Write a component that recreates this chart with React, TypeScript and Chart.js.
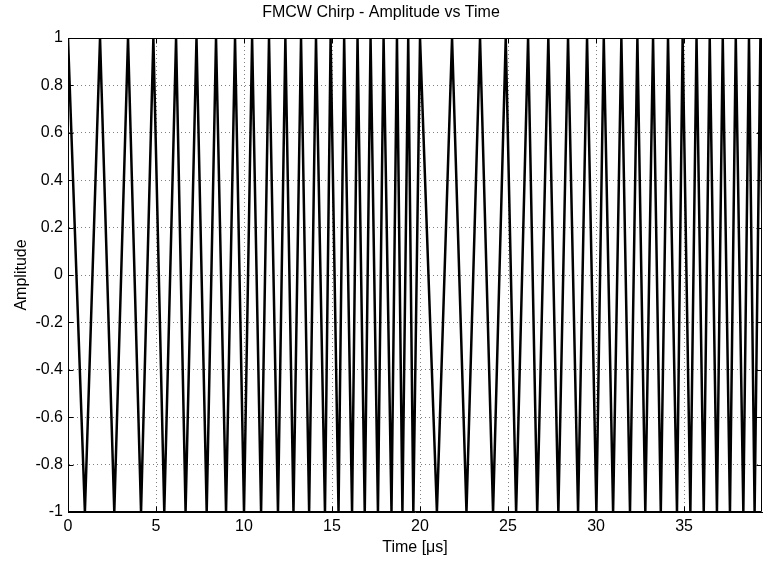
import { useEffect, useRef } from 'react';
import { Chart, registerables } from 'chart.js';

Chart.register(...registerables);

const TITLE = 'FMCW Chirp - Amplitude vs Time';
const X_LABEL = 'Time [μs]';
const Y_LABEL = 'Amplitude';

// Times (µs) at which the chirp reaches +1
const peakTimes = [
  0, 1.82, 3.41, 4.85, 6.14, 7.3, 8.41, 9.49, 10.46, 11.42, 12.35, 13.24, 14.09, 14.92, 15.69, 16.45,
  17.19, 17.93, 18.69, 19.33,
  20.0, 21.82, 23.41, 24.87, 26.14, 27.29, 28.41, 29.49, 30.44, 31.44, 32.35, 33.24, 34.09, 34.92,
  35.71, 36.46, 37.2, 37.94, 38.69, 39.34,
];
// Times (µs) at which the chirp reaches -1
const troughTimes = [
  0.96, 2.63, 4.15, 5.47, 6.68, 7.88, 8.98, 10.0, 10.97, 11.93, 12.81, 13.7, 14.6, 15.37, 16.14, 16.86,
  17.61, 18.38, 19.0, 19.62,
  20.96, 22.64, 24.15, 25.46, 26.66, 27.86, 28.98, 30.02, 30.97, 31.93, 32.8, 33.68, 34.6, 35.36,
  36.12, 36.87, 37.61, 38.37, 39.01, 39.62,
];
const peakAmplitude = 1;
const troughAmplitude = -1;

const xMin = 0;
const xMax = 39.43;
const xStep = 5;
const yMin = -1;
const yMax = 1;
const yStep = 0.2;

const FONT = '"Liberation Sans", Arial, Helvetica, sans-serif';

const framePlugin = {
  id: 'matlabFrame',
  afterDraw(chart: any) {
    const { ctx, chartArea } = chart;
    const { left, right, top, bottom } = chartArea;
    const xs = chart.scales.x;
    const ys = chart.scales.y;
    const L = Math.round(left) + 0.5;
    const R = Math.round(right) - 0.5;
    const T = Math.round(top) + 0.5;
    const B = Math.round(bottom) - 0.5;
    const tl = 5;
    ctx.save();
    ctx.strokeStyle = '#000';
    ctx.lineWidth = 1;
    ctx.setLineDash([]);
    ctx.beginPath();
    ctx.moveTo(L, T);
    ctx.lineTo(R, T);
    ctx.lineTo(R, B);
    ctx.lineTo(L, B);
    ctx.lineTo(L, T);
    xs.ticks.forEach((t: any) => {
      const px = Math.round(xs.getPixelForValue(t.value)) + 0.5;
      ctx.moveTo(px, B);
      ctx.lineTo(px, B - tl);
      ctx.moveTo(px, T);
      ctx.lineTo(px, T + tl);
    });
    ys.ticks.forEach((t: any) => {
      const py = Math.round(ys.getPixelForValue(t.value)) + 0.5;
      ctx.moveTo(L, py);
      ctx.lineTo(L + tl, py);
      ctx.moveTo(R, py);
      ctx.lineTo(R - tl, py);
    });
    ctx.stroke();
    ctx.restore();
  },
};

export default function App() {
  const ref = useRef<HTMLCanvasElement>(null);

  useEffect(() => {
    document.body.style.margin = '0';
    const points = [
      ...peakTimes.map((t) => ({ x: t, y: peakAmplitude })),
      ...troughTimes.map((t) => ({ x: t, y: troughAmplitude })),
    ].sort((a, b) => a.x - b.x);

    const chart = new Chart(ref.current as HTMLCanvasElement, {
      type: 'line',
      data: {
        datasets: [
          {
            data: points,
            borderColor: '#000',
            borderWidth: 2.5,
            pointRadius: 0,
            tension: 0,
            fill: false,
          },
        ],
      },
      plugins: [framePlugin],
      options: {
        animation: false,
        responsive: false,
        devicePixelRatio: 1,
        parsing: false,
        layout: { padding: { left: 0, right: 1, top: 0, bottom: 0 } },
        plugins: {
          legend: { display: false },
          tooltip: { enabled: false },
          title: {
            display: true,
            text: TITLE,
            color: '#000',
            font: { family: FONT, size: 16, weight: 'normal', lineHeight: 1.2 },
            padding: { top: 3, bottom: 15.8 },
          },
        },
        scales: {
          x: {
            type: 'linear',
            min: xMin,
            max: xMax,
            afterFit(scale: any) {
              scale.height = 51;
            },
            ticks: {
              stepSize: xStep,
              includeBounds: false,
              color: '#000',
              padding: 5,
              maxRotation: 0,
              font: { family: FONT, size: 16 },
              callback: (v: any) => String(v),
            },
            grid: {
              color: '#808080',
              lineWidth: 1,
              drawTicks: false,
            },
            border: { display: true, color: '#000', width: 1, dash: [1, 3] },
            title: {
              display: true,
              text: X_LABEL,
              color: '#000',
              font: { family: FONT, size: 16, lineHeight: 1.2 },
              padding: { top: 0, bottom: 5.4 },
            },
          },
          y: {
            type: 'linear',
            min: yMin,
            max: yMax,
            afterFit(scale: any) {
              scale.width = 68;
            },
            ticks: {
              stepSize: yStep,
              color: '#000',
              padding: 5,
              font: { family: FONT, size: 16 },
              callback: (v: any) => String(Number(Number(v).toFixed(1))),
            },
            grid: {
              color: '#808080',
              lineWidth: 1,
              drawTicks: false,
            },
            border: { display: true, color: '#000', width: 1, dash: [1, 3] },
            title: {
              display: true,
              text: Y_LABEL,
              color: '#000',
              font: { family: FONT, size: 16, lineHeight: 1.2 },
              padding: { top: 12.4, bottom: 0 },
            },
          },
        },
      },
    } as any);
    return () => chart.destroy();
  }, []);

  return (
    <div style={{ width: 763, height: 563, background: '#fff' }}>
      <canvas ref={ref} width={763} height={563} style={{ display: 'block' }} />
    </div>
  );
}
